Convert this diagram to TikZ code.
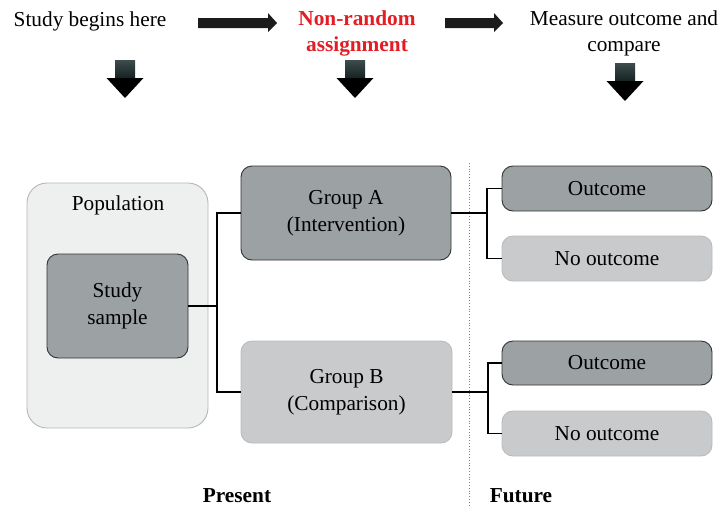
\documentclass[tikz,border=0pt]{standalone}
\usepackage{fontspec}
\setmainfont{Liberation Serif}
\begin{document}
\begin{tikzpicture}[x=1pt,y=-1pt,
  every node/.style={font=\fontsize{21.3}{26.5}\selectfont, align=center},
  darkbox/.style={draw=black!80, line width=0.9pt, fill={rgb,255:red,156;green,161;blue,163}, rounded corners=11pt, inner sep=0pt},
  lightbox/.style={draw={rgb,255:red,185;green,187;blue,189}, line width=0.9pt, fill={rgb,255:red,201;green,202;blue,204}, rounded corners=11pt, inner sep=0pt},
  popbox/.style={draw={rgb,255:red,180;green,182;blue,184}, line width=0.9pt, fill={rgb,255:red,238;green,239;blue,239}, rounded corners=20pt, inner sep=0pt},
  conn/.style={draw=black, line width=1.5pt},
  blockarrow/.style={fill={rgb,255:red,28;green,28;blue,28}},
  arrowhead/.style={fill=black},
  labelbold/.style={font=\fontsize{21.3}{26}\selectfont\bfseries}]
\useasboundingbox (0,0) rectangle (718,507);
\definecolor{redtxt}{RGB}{226,30,36}

% top texts
\node (t1) at (90,21) {Study begins here};
\node[text=redtxt, font=\fontsize{21.3}{26}\selectfont\bfseries] (t2) at (357,33) {Non-random\\assignment};
\node[font=\fontsize{21.3}{26}\selectfont] (t3) at (624,33) {Measure outcome and\\compare};

% horizontal block arrows
\path[blockarrow] (198,18) -- (268,18) -- (268,13) -- (277,23) -- (268,32) -- (268,28) -- (198,28) -- cycle;
\path[blockarrow] (445,18) -- (494,18) -- (494,13) -- (503,23) -- (494,32) -- (494,28) -- (445,28) -- cycle;

% down arrows
\foreach \cx/\ty in {125/60, 355/60, 625/63} {
  \shade[top color={rgb,255:red,62;green,76;blue,78}, bottom color={rgb,255:red,18;green,32;blue,32}]
    (\cx-10,\ty) rectangle (\cx+10,\ty+19);
  \path[arrowhead] (\cx-18.5,\ty+18) -- (\cx+18.5,\ty+18) -- (\cx,\ty+38) -- cycle;
}

% population and boxes
\node[popbox, minimum width=181pt, minimum height=245pt] (pop) at (117.5,305.5) {};
\node (poplabel) at (118,205) {Population};
\node[darkbox, minimum width=141pt, minimum height=104pt] (sample) at (117.5,306) {Study\\sample};
\node[darkbox, minimum width=210pt, minimum height=94pt] (ga) at (346,213) {Group A\\(Intervention)};
\node[lightbox, minimum width=211pt, minimum height=102pt] (gb) at (346.5,392) {Group B\\(Comparison)};
\node[darkbox, minimum width=210pt, minimum height=45pt] (o1) at (607,188.5) {Outcome};
\node[lightbox, minimum width=210pt, minimum height=45pt] (n1) at (607,258.5) {No outcome};
\node[darkbox, minimum width=210pt, minimum height=44pt] (o2) at (607,363) {Outcome};
\node[lightbox, minimum width=210pt, minimum height=45pt] (n2) at (607,433.5) {No outcome};

% dotted divider
\coordinate (dtop) at (469,163);
\coordinate (dbot) at (469,507);
\draw[gray, line width=0.8pt, dotted] (dtop) -- (dbot);

% connectors
\coordinate (j1) at (217,306);
\coordinate (j2) at (487,213);
\coordinate (j3) at (488,392);
\draw[conn] (sample.east) -- (j1);
\draw[conn] (ga.west) -| (j1) |- (gb.west);
\draw[conn] (ga.east) -- (j2);
\draw[conn] (o1.west) -| (j2) |- (n1.west);
\draw[conn] (gb.east) -- (j3);
\draw[conn] (o2.west) -| (j3) |- (n2.west);

% bottom labels
\node[labelbold] (present) at (237,496) {Present};
\node[labelbold] (future) at (521,496) {Future};
\end{tikzpicture}
\end{document}
